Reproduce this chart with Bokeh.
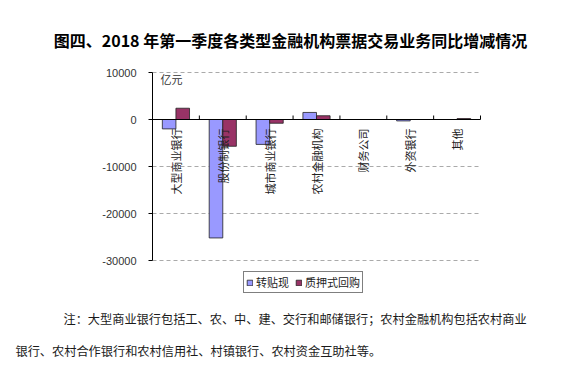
import numpy as np
from bokeh.plotting import figure
from bokeh.models import ColumnDataSource, Label, Legend, LegendItem, Range1d
from bokeh.transform import dodge
from bokeh.core.properties import value
from bokeh.embed import file_html
from bokeh.resources import INLINE

# ---- data ----
categories = ["大型商业银行", "股份制银行", "城市商业银行", "农村金融机构", "财务公司", "外资银行", "其他"]
discount = [-2000, -25200, -5300, 1500, 0, -300, 0]      # 转贴现
repo = [2400, -5700, -800, 800, 0, 0, 200]              # 质押式回购
series_names = ["转贴现", "质押式回购"]
series_colors = ["#9999FF", "#993366"]
y_ticks = [-30000, -20000, -10000, 0, 10000]
y_tick_labels = ["-30000", "-20000", "-10000", "0", "10000"]
title_text = "图四、2018 年第一季度各类型金融机构票据交易业务同比增减情况"
note_line1 = "注：大型商业银行包括工、农、中、建、交行和邮储银行；农村金融机构包括农村商业"
note_line2 = "银行、农村合作银行和农村信用社、村镇银行、农村资金互助社等。"
unit_text = "亿元"

CJK = "Noto Sans CJK SC"
W, H = 580, 376
# plot area in page pixels
PL, PR, PT, PB = 152, 480, 72, 260
n = len(categories)
x_lo, x_hi = 0.5, n + 0.5
y_lo, y_hi = min(y_ticks), max(y_ticks)
ux = (x_hi - x_lo) / (PR - PL)        # data units per pixel (x)
uy = (y_hi - y_lo) / (PB - PT)        # data units per pixel (y)

p = figure(width=W, height=H, output_backend="svg", toolbar_location=None,
           x_range=Range1d(x_lo - PL * ux, x_hi + (W - PR) * ux),
           y_range=Range1d(y_lo - (H - PB) * uy, y_hi + PT * uy),
           x_axis_location=None, y_axis_location=None,
           min_border=0, min_border_left=0, min_border_right=0,
           min_border_top=0, min_border_bottom=0)
p.outline_line_color = None
p.xgrid.visible = False
p.ygrid.visible = False
p.background_fill_color = "white"
p.border_fill_color = "white"

# ---- value axis (left) ----
grid_ticks = [t for t in y_ticks if t != 0]
p.segment(x0=[x_lo] * len(grid_ticks), y0=grid_ticks, x1=[x_hi] * len(grid_ticks), y1=grid_ticks,
          line_color="#aaaaaa", line_width=1, line_dash="4 3")
p.segment(x0=[x_lo], y0=[y_lo], x1=[x_lo], y1=[y_hi], line_color="black", line_width=1)
p.segment(x0=[x_lo] * len(y_ticks), y0=y_ticks, x1=[x_lo - 4 * ux] * len(y_ticks), y1=y_ticks,
          line_color="black", line_width=1)
p.text(x=[x_lo] * len(y_ticks), y=y_ticks, text=y_tick_labels, x_offset=-16,
       text_align="right", text_baseline="middle",
       text_font=value("Liberation Sans"), text_font_size="11px", text_color="#333333")

# ---- bars ----
xs = list(range(1, n + 1))
src = ColumnDataSource(dict(x=xs, discount=discount, repo=repo, cat=categories))
bw = 0.29
r1 = p.vbar(x=dodge("x", -bw / 2, range=p.x_range), top="discount", bottom=0, width=bw,
            source=src, fill_color=series_colors[0], line_color="#222222", line_width=0.8)
r2 = p.vbar(x=dodge("x", bw / 2, range=p.x_range), top="repo", bottom=0, width=bw,
            source=src, fill_color=series_colors[1], line_color="#222222", line_width=0.8)

# ---- category axis at zero ----
p.segment(x0=[x_lo], y0=[0], x1=[x_hi], y1=[0], line_color="black", line_width=1)
bounds = [x + 0.5 for x in xs]
p.segment(x0=bounds, y0=[0] * n, x1=bounds, y1=[4 * uy] * n, line_color="black", line_width=1)
p.text(x="x", y=0, text="cat", source=src, angle=np.pi / 2, text_align="right",
       text_baseline="middle", y_offset=9,
       text_font=value(CJK), text_font_size="11px", text_color="#222222")

# ---- texts (screen units: page pixels from bottom-left) ----
p.add_layout(Label(x=171, y=H - 78, x_units="screen", y_units="screen", text=unit_text,
                   text_font=CJK, text_font_size="11px", text_color="#333333",
                   text_align="center", text_baseline="middle"))
p.add_layout(Label(x=290, y=H - 39, x_units="screen", y_units="screen", text=title_text,
                   text_font=CJK, text_font_size="16px", text_font_style="bold",
                   text_color="black", text_align="center", text_baseline="middle"))
p.add_layout(Label(x=63, y=H - 318, x_units="screen", y_units="screen", text=note_line1,
                   text_font=CJK, text_font_size="12.2px", text_color="#1a1a1a",
                   text_align="left", text_baseline="middle"))
p.add_layout(Label(x=15, y=H - 350, x_units="screen", y_units="screen", text=note_line2,
                   text_font=CJK, text_font_size="12.2px", text_color="#1a1a1a",
                   text_align="left", text_baseline="middle"))

# ---- legend ----
legend = Legend(items=[LegendItem(label=series_names[0], renderers=[r1]),
                       LegendItem(label=series_names[1], renderers=[r2])],
                orientation="horizontal", location=(243, H - 293),
                border_line_color="black", border_line_width=1,
                background_fill_color="white", background_fill_alpha=1,
                padding=2, margin=0, spacing=6, label_standoff=3,
                glyph_width=7, glyph_height=7, label_height=9,
                label_text_font=CJK, label_text_font_size="11px",
                label_text_color="#222222")
p.add_layout(legend, "center")

open("out.html", "w").write(file_html(p, INLINE))
